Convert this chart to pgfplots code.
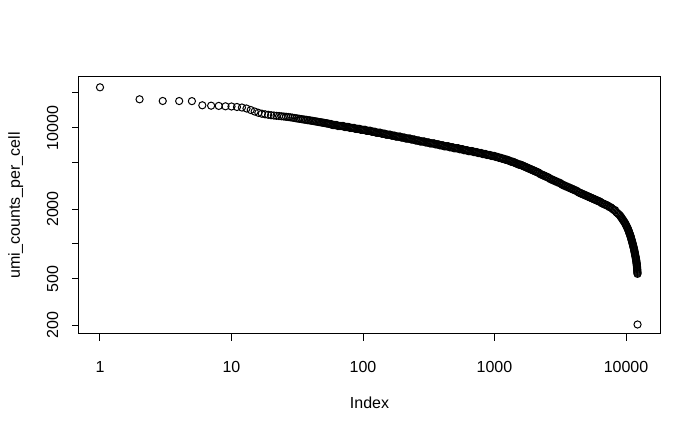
\documentclass[border=0pt]{standalone}
\usepackage{fontspec}
\setmainfont{Liberation Sans}
\usepackage{pgfplots}
\pgfplotsset{compat=1.18}
\begin{document}
\begin{tikzpicture}[font=\fontsize{12bp}{14bp}\selectfont]
\useasboundingbox (-59.25bp,-73.5bp) rectangle (465.75bp,250.5bp);
\begin{axis}[
  at={(0,0)}, anchor=south west,
  scale only axis, width=435.75bp, height=192.75bp,
  xmode=log, ymode=log,
  xmin=0.6924, xmax=18140, ymin=167.3, ymax=27480,
  axis line style={line width=0.75bp, black},
  tick align=outside, tick pos=left,
  major tick length=5.25bp,
  every tick/.style={black, line width=0.75bp},
  xminorticks=false, yminorticks=false,
  xtick={1,10,100,1000,10000}, xticklabels={1,10,100,1000,10000},
  ytick={200,500,1000,2000,5000,10000,20000}, yticklabels={200,500,,2000,,10000,},
  xticklabel style={anchor=base, inner sep=0pt, yshift=-24bp},
  yticklabel style={rotate=90, anchor=base, inner sep=0pt, yshift=10.5bp},
  every axis x label/.style={at={(axis description cs:0.5,0)}, anchor=base, inner sep=0pt, yshift=-56.25bp},
  every axis y label/.style={at={(axis description cs:0,0.5)}, rotate=90, anchor=base, inner sep=0pt, yshift=44.25bp},
  xlabel={Index}, ylabel={umi\_counts\_per\_cell},
  /pgf/number format/assume math mode=true,
]
\addplot[only marks, black, mark=o, mark size=2.7bp, mark options={line width=0.75bp}] table {
x y
1 22390
2 17650
3 17070
4 17050
5 17020
6 15670
7 15550
8 15480
9 15360
10 15300
11 15150
12 14990
13 14710
14 14270
15 13850
16 13500
17 13260
18 13100
19 12980
20 12870
21 12790
22 12710
23 12670
24 12590
25 12540
26 12470
27 12420
28 12340
29 12270
30 12190
31 12100
32 12040
33 11970
34 11910
35 11840
36 11790
37 11730
38 11670
39 11620
40 11570
41 11520
42 11460
43 11410
44 11360
45 11310
46 11260
47 11210
48 11160
49 11120
50 11070
51 11030
52 10990
53 10940
54 10900
55 10860
56.23 10798
57.32 10798
58.43 10593
59.57 10593
60.72 10593
61.90 10593
63.10 10593
64.32 10391
65.56 10391
66.83 10391
68.13 10391
69.45 10391
70.80 10391
72.17 10194
73.56 10194
74.99 10194
76.44 10194
77.92 10194
79.43 10000
80.97 10000
82.54 10000
84.14 10000
85.77 10000
87.43 9810
89.13 9810
90.85 9810
92.61 9810
94.41 9810
96.24 9624
98.10 9624
100 9624
101.94 9624
103.91 9624
105.93 9441
107.98 9441
110.07 9441
112.20 9441
114.37 9441
116.59 9261
118.85 9261
121.15 9261
123.50 9261
125.89 9085
128.33 9085
130.82 9085
133.35 9085
135.94 9085
138.57 8913
141.25 8913
143.99 8913
146.78 8913
149.62 8743
152.52 8743
155.48 8743
158.49 8743
161.56 8743
164.69 8577
167.88 8577
171.13 8577
174.45 8577
177.83 8414
181.28 8414
184.78 8414
188.36 8414
192.01 8414
195.73 8254
199.53 8254
203.39 8254
207.33 8254
211.35 8097
215.44 8097
219.62 8097
223.87 8097
228.21 8097
232.63 7943
237.14 7943
241.73 7943
246.41 7943
251.19 7792
256.05 7792
261.02 7792
266.07 7792
271.23 7644
276.48 7644
281.84 7644
287.30 7644
292.86 7644
298.54 7499
304.32 7499
310.22 7499
316.23 7499
322.35 7356
328.60 7356
334.97 7356
341.45 7356
348.07 7356
354.81 7217
361.69 7217
368.69 7217
375.84 7217
383.12 7080
390.54 7080
398.11 7080
405.82 7080
413.68 6945
421.70 6945
429.87 6945
438.20 6945
446.68 6945
455.34 6813
464.16 6813
473.15 6813
482.32 6813
491.66 6683
501.19 6683
510.90 6683
520.80 6683
530.89 6683
541.17 6556
551.66 6556
562.34 6556
573.24 6556
584.34 6432
595.66 6432
607.20 6432
618.97 6432
630.96 6310
643.18 6310
655.64 6310
668.34 6310
681.29 6310
694.49 6190
707.95 6190
721.66 6190
735.64 6190
749.89 6072
764.42 6072
779.23 6072
794.33 6072
809.72 5957
825.40 5957
841.40 5957
857.70 5957
874.31 5843
891.25 5843
908.52 5843
926.12 5843
944.06 5732
962.35 5732
981.00 5732
1000 5732
1019 5623
1039 5623
1059 5623
1080 5517
1101 5517
1122 5517
1144 5412
1166 5412
1189 5412
1212 5309
1235 5309
1259 5309
1283 5208
1308 5208
1334 5109
1359 5109
1386 5109
1413 5012
1440 5012
1468 4917
1496 4917
1525 4823
1555 4823
1585 4823
1616 4732
1647 4732
1679 4642
1711 4642
1745 4553
1778 4553
1813 4467
1848 4467
1884 4382
1920 4382
1957 4299
1995 4299
2034 4217
2073 4217
2113 4137
2154 4137
2196 4058
2239 3981
2282 3981
2326 3905
2371 3905
2417 3831
2464 3831
2512 3758
2561 3758
2610 3687
2661 3617
2712 3617
2765 3548
2818 3548
2873 3481
2929 3481
2985 3415
3043 3415
3102 3350
3162 3350
3224 3286
3286 3224
3350 3224
3415 3162
3481 3162
3548 3102
3617 3102
3687 3043
3758 3043
3831 2985
3905 2985
3981 2929
4058 2929
4137 2873
4217 2873
4299 2818
4382 2765
4467 2765
4553 2712
4642 2712
4732 2661
4823 2661
4917 2610
5012 2610
5109 2561
5208 2561
5309 2512
5412 2512
5517 2464
5623 2464
5732 2417
5843 2417
5957 2371
6072 2371
6190 2326
6310 2326
6432 2282
6556 2239
6683 2239
6813 2196
6945 2196
7080 2154
7217 2154
7356 2113
7499 2073
7644 2073
7792 2034
7943 1995
8097 1957
8254 1957
8414 1884
8577 1848
8743 1813
8913 1778
9040 1745
9143 1711
9247 1679
9355 1647
9461 1616
9569 1585
9678 1555
9790 1525
9882 1496
9964 1468
10049 1440
10132 1413
10218 1386
10302 1359
10379 1334
10442 1308
10506 1283
10571 1259
10636 1235
10702 1212
10767 1189
10829 1166
10882 1144
10932 1122
10984 1101
11037 1080
11088 1059
11141 1039
11193 1019
11242 1000
11292 981
11342 962
11389 944
11439 926
11488 909
11530 891
11570 874
11610 858
11648 841
11688 825
11727 810
11767 794
11806 779
11844 764
11885 750
11920 736
11952 722
11982 708
12014 694
12044 681
12074 668
12090 656
12108 643
12127 631
12146 619
12164 607
12176 596
12190 584
12204 573
12218 562
12230 552
12240 202
};
\end{axis}
\end{tikzpicture}
\end{document}
